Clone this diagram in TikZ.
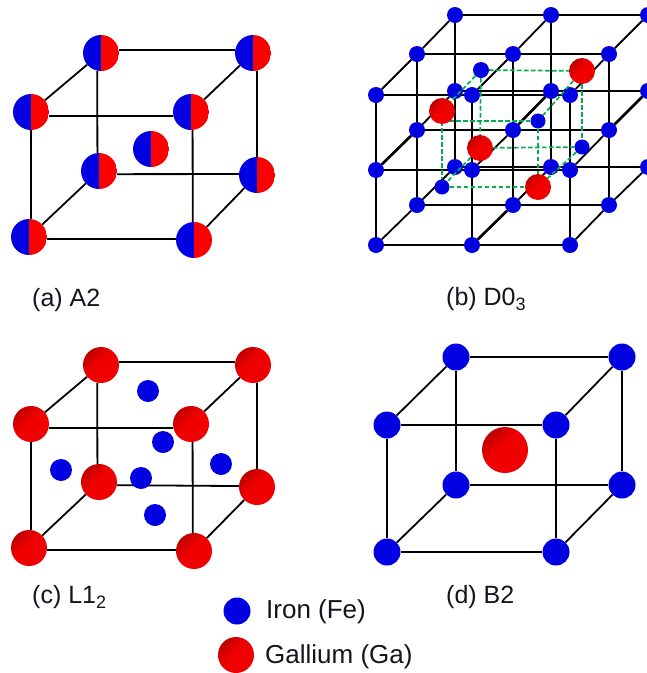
\documentclass[tikz,border=0pt]{standalone}
\usepackage{fontspec}
\setmainfont{Liberation Sans}
\definecolor{FeBlue}{RGB}{0,0,224}
\definecolor{GaRed}{RGB}{240,0,0}
\definecolor{GaDark}{RGB}{165,0,0}
\definecolor{CellGreen}{RGB}{0,176,80}
\definecolor{LabelInk}{RGB}{20,20,30}
\newcommand{\lowdigit}[1]{\raisebox{-5pt}{\fontsize{18}{20}\selectfont #1}}
\pgfdeclareverticalshading{gashade}{100bp}{color(0bp)=(GaRed); color(55bp)=(GaRed); color(85bp)=(GaDark); color(100bp)=(GaDark)}
\pgfdeclarelayer{edges}
\pgfdeclarelayer{dashes}
\pgfdeclarelayer{top}
\pgfsetlayers{edges,main,dashes,top}

\begin{document}
\begin{tikzpicture}[x=1pt,y=-1pt,
  fe/.style={circle,inner sep=0pt,minimum size=#1,fill=FeBlue},
  ga/.style={circle,inner sep=0pt,minimum size=#1,shade,shading=gashade,shading angle=45},
  mixed/.style={circle,inner sep=0pt,minimum size=#1,path picture={
    \fill[FeBlue] (path picture bounding box.south) rectangle (path picture bounding box.north west);
    \fill[red] (path picture bounding box.south) rectangle (path picture bounding box.north east);}},
  cellline/.style={black,line width=1.8pt},
  cellbold/.style={black,line width=2.6pt},
  greenline/.style={CellGreen,line width=1.7pt,dash pattern=on 4.5pt off 2.5pt},
  caption/.style={anchor=base west,inner sep=0pt,text=LabelInk,font=\fontsize{25}{30}\selectfont},
  legend/.style={anchor=base west,inner sep=0pt,text=LabelInk,font=\fontsize{26}{30}\selectfont}]
\useasboundingbox (0,0) rectangle (647,673);

% (a) A2
\foreach \n/\x/\y in {1/101/53,2/253/53,3/31/112,4/191/112,5/99/171,6/257/175,7/29/237,8/194/240} {
   \node[mixed=36pt](a\n) at(\x,\y) {};
}
\node[mixed=36pt](a9) at(151,149) {};
\node[caption](capa) at(32,306) {(a) A2};

% (c) L1_2
\foreach \n/\x/\y in {1/101/365,2/253/365,3/31/424,4/191/424,5/99/482,6/257/487,7/29/548,8/194/551} {
   \node[ga=36pt](c\n) at(\x,\y) {};
}
\foreach \n/\x/\y in {9/148/391,10/163/442,11/61/470,12/221/464,13/141/478,14/155/515} {
   \node[fe=22pt](c\n) at(\x,\y) {};
}
\node[caption](capc) at(32,603) {(c) L1\lowdigit{2}};

% (d) B2
\foreach \n/\x/\y in {1/456/357,2/622/357,3/387/425,4/556/425,5/456/485,6/622/485,7/387/552,8/556/552} {
   \node[fe=27pt](d\n) at(\x,\y) {};
}
\node[ga=46pt](d9) at(505,450) {};
\node[caption](capd) at(446,603) {(d) B2};

\begin{pgfonlayer}{edges}
% a and c: atoms sit off the frame, so pick the border angle
\foreach \p in {a,c} {
   \foreach \u/\s/\v/\t in {1/10/2/170,3/348/4/192,5/350/6/177,7/354/8/177,
      1/258/5/95,2/283/6/90,3/270/7/84,4/275/8/94} {
      \draw[cellline] (\p\u.\s) -- (\p\v.\t);
   }
   \foreach \u/\v in {1/3,2/4,5/7,6/8} {
      \draw[cellline] (\p\u) -- (\p\v);
   }
}
\foreach \u/\v in {1/2,3/4,5/6,7/8,1/5,2/6,3/7,4/8,1/3,2/4,5/7,6/8} {
   \draw[cellline] (d\u) -- (d\v);
}
\end{pgfonlayer}

% (b) D0_3, names are b<layer><row><column>
\foreach \n/\x/\y in {111/376/95,112/472/95,113/570/95,121/376/170,122/472/170,123/570/170,131/376/245,132/472/245,133/570/245,
   211/417/54,212/513/54,213/609/54,221/417/130,222/513/130,223/609/130,231/417/205,232/513/205,233/609/205,
   311/455/15,312/551/15,313/648/15,321/455/91,322/551/91,323/648/91,331/455/167,332/551/167,333/648/167} {
   \node[fe=16pt](b\n) at(\x,\y) {};
}
\begin{pgfonlayer}{edges}
\foreach \l in {1,2,3} {
   \foreach \m in {1,2,3} {
      \foreach \u/\v in {1/2,2/3} {
         \draw[cellline] (b\l\m\u) -- (b\l\m\v);
         \draw[cellline] (b\l\u\m) -- (b\l\v\m);
         \draw[cellline] (b\u\l\m) -- (b\v\l\m);
      }
   }
}
\foreach \u/\v in {211/212,222/223,232/233,212/222,222/232,312/322,322/332,222/322,223/323,121/221,132/232} {
   \draw[cellbold] (b\u) -- (b\v);
}
\end{pgfonlayer}

% inner cell
\begin{pgfonlayer}{top}
\node[fe=16pt](g1) at(481,70) {};
\node[ga=26pt](g2) at(582,71) {};
\node[ga=26pt](g3) at(442,111) {};
\node[fe=15pt](g4) at(538,121) {};
\node[ga=26pt](g5) at(480,148) {};
\node[fe=15pt](g6) at(582,147) {};
\node[fe=15pt](g7) at(442,187) {};
\node[ga=26pt](g8) at(538,187) {};
\end{pgfonlayer}
\coordinate (g3low) at(442,121);
\begin{pgfonlayer}{dashes}
\foreach \u/\v in {g1/g2,g3low/g4,g5/g6,g7/g8,g1/g5,g2/g6,g3low/g7,g4/g8,g1/g3,g2/g4,g5/g7,g6/g8} {
   \draw[greenline] (\u) -- (\v);
}
\end{pgfonlayer}
\node[caption](capb) at(446,305) {(b) D0\lowdigit{3}};

% key
\node[fe=27pt](keyfe) at(237,611) {};
\node[ga=36pt](keyga) at(236,655) {};
\node[legend](txtfe) at(266,618) {Iron (Fe)};
\node[legend](txtga) at(265,663) {Gallium (Ga)};
\end{tikzpicture}
\end{document}
